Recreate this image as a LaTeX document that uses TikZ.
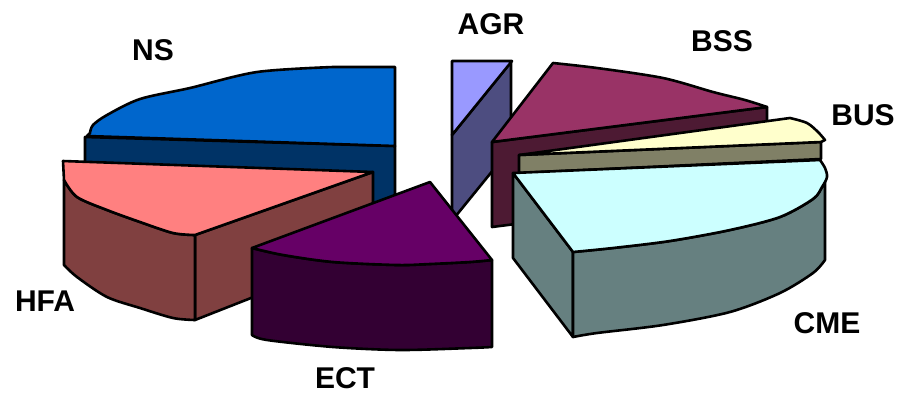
\documentclass[tikz,border=0pt]{standalone}
\usepackage{fontspec}
\setmainfont{Liberation Sans}
\usepackage{tikz}
\definecolor{nstop}{HTML}{0066CC}
\definecolor{nsside}{HTML}{003366}
\definecolor{hfatop}{HTML}{FF8080}
\definecolor{hfaside}{HTML}{804040}
\definecolor{ecttop}{HTML}{660066}
\definecolor{ectside}{HTML}{330033}
\definecolor{agrtop}{HTML}{9999FF}
\definecolor{agrside}{HTML}{4D4D80}
\definecolor{bsstop}{HTML}{993366}
\definecolor{bssside}{HTML}{4D1A33}
\definecolor{bustop}{HTML}{FFFFCC}
\definecolor{busside}{HTML}{808066}
\definecolor{cmetop}{HTML}{CCFFFF}
\definecolor{cmeside}{HTML}{668080}
\tikzset{
x=1pt, y=-1pt, % pixel units, y grows downwards
face/.style={draw=black, line width=2.6pt, line join=round}, % every face of a slice
slicename/.style={font=\fontsize{30}{30}\selectfont\bfseries, inner sep=0pt}, % the slice labels
}
\begin{document}
\begin{tikzpicture}
\useasboundingbox (0,0) rectangle (899,392);
% NS
\fill[face, fill=nsside] (85,137) -- (395,146) -- (395,205) -- (85,190) -- cycle;
\fill[face, fill=nstop] (87,136) -- (395,146) -- (395,67) -- plot[smooth] coordinates {(333,67) (257,72) (190,88) (140,99) (107,115) (93,125) (90,133)} -- cycle;
% AGR
\fill[face, fill=agrside] (452,135) -- (511,62) -- (511,148) -- (455,217) -- (452,217) -- cycle;
\fill[face, fill=agrtop] (452,61) -- (512,61) -- (452,135) -- cycle;
% BSS
\fill[face, fill=bssside] (492,142) -- (767,107) -- (767,192) -- (492,227) -- cycle;
\fill[face, fill=bsstop] (492,142) -- (553,63) -- plot[smooth] coordinates {(553,63) (597,68) (663,78) (713,92) (745,100) (767,107)} -- cycle;
% BUS
\fill[face, fill=busside] (519,155) -- (821,142) -- (821,159) -- (519,173) -- cycle;
\fill[face, fill=bustop] (519,155) -- plot[smooth] coordinates {(790,118) (807,123) (818,132) (825,140)} -- (821,142) -- cycle;
% CME
\fill[face, fill=cmeside] (513,173) -- (573,252) -- (573,337) -- (513,258) -- cycle;
\fill[face, fill=cmeside] plot[smooth] coordinates {(573,252) (613,248) (670,241) (730,230) (780,217) (813,199) (822,187) (825,180)} -- (825,260) -- plot[smooth] coordinates {(825,260) (813,273) (780,293) (730,312) (663,325) (597,333) (573,337)} -- cycle;
\fill[face, fill=cmetop] (513,173) -- (820,160) -- plot[smooth] coordinates {(820,160) (825,168) (827,177) (822,187) (813,199) (780,217) (730,230) (670,241) (613,248) (573,252)} -- cycle;
% HFA
\fill[face, fill=hfaside] (195,235) -- (373,172) -- (373,250) -- (195,320) -- cycle;
\fill[face, fill=hfaside] plot[smooth] coordinates {(64,180) (77,197) (107,210) (140,222) (173,233) (195,235)} -- (195,320) -- plot[smooth] coordinates {(195,320) (173,318) (140,308) (107,297) (77,277) (64,265)} -- cycle;
\fill[face, fill=hfatop] (63,161) -- (373,172) -- (195,235) -- plot[smooth] coordinates {(195,235) (173,233) (140,222) (107,210) (77,197) (64,180)} -- cycle;
% ECT
\fill[face, fill=ectside] plot[smooth] coordinates {(252,248) (283,255) (333,262) (397,265) (430,264) (470,262) (492,260)} -- (492,347) -- plot[smooth] coordinates {(492,347) (470,348) (400,350) (333,347) (267,340) (252,335)} -- cycle;
\fill[face, fill=ecttop] (430,182) -- (492,260) -- plot[smooth] coordinates {(492,260) (470,262) (430,264) (397,265) (333,262) (283,255) (252,248)} -- cycle;
% labels
\node[slicename] (ns) at (153,50) {NS};
\node[slicename] (agr) at (491,24) {AGR};
\node[slicename] (bss) at (722,41) {BSS};
\node[slicename] (bus) at (863,115) {BUS};
\node[slicename] (cme) at (827,323) {CME};
\node[slicename] (hfa) at (45,301) {HFA};
\node[slicename] (ect) at (345,378) {ECT};
\end{tikzpicture}
\end{document}
